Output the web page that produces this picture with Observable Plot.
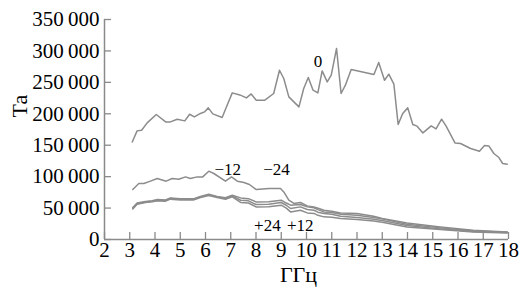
<!DOCTYPE html>
<html>
<head>
<meta charset="utf-8">
<script src="https://cdn.jsdelivr.net/npm/d3@7"></script>
<script src="https://cdn.jsdelivr.net/npm/@observablehq/plot@0.6"></script>
<style>
  html, body { margin: 0; padding: 0; background: #fff; }
</style>
</head>
<body>
<div id="chart"></div>
<script>
// Curve "0"
const freq0 = [3.10,3.29,3.47,3.69,4.05,4.42,4.61,4.88,5.18,5.37,5.56,5.80,5.96,6.11,6.29,6.66,6.82,7.06,7.36,7.62,7.81,8.01,8.35,8.70,8.93,9.10,9.30,9.70,9.89,10.07,10.26,10.45,10.62,10.82,10.98,11.19,11.37,11.54,11.77,12.67,12.86,13.09,13.26,13.46,13.63,13.81,14.01,14.21,14.38,14.61,14.94,15.13,15.35,15.53,15.88,16.10,16.50,16.85,17.05,17.22,17.42,17.62,17.77,17.95];
const ta0 = [155000,172800,173900,185500,198900,187100,187100,191400,188700,199300,195000,200500,203000,209400,199800,194100,210000,233300,230000,225300,231600,221600,221600,232300,269300,256100,226900,211000,240200,257700,237500,233300,268200,250700,261400,303900,232300,245500,270500,262500,281600,253400,263000,247100,183000,200500,209400,183000,180300,169600,180700,176000,191400,180300,153700,152700,144800,140500,149500,148900,136800,130400,120900,119800];

// Curve "−12"
const freqM12 = [3.12,3.36,3.56,3.82,4.09,4.44,4.68,4.94,5.21,5.40,5.67,5.89,6.13,6.33,6.79,7.03,7.26,7.52,7.74,8.01,8.51,8.97,9.10,9.30,9.50,9.76,10.03,10.29,10.49,10.69,11.00,11.35,12.00,12.66,13.00,13.98,15.30,16.60,17.95];
const taM12 = [79500,89000,89000,92800,97000,92800,97000,95900,99600,97000,99600,99600,108700,105000,92800,99600,92800,90700,87500,79500,81100,81100,75700,62500,57300,58900,53500,51900,49300,46600,45000,42300,41400,37000,33500,26400,20000,14800,12000];

// Bundle of three curves "−24", "+24", "+12"
const freqB = [3.12,3.29,3.62,3.89,4.09,4.42,4.61,5.01,5.54,5.80,6.13,6.46,6.79,7.06,7.39,7.70,8.00,8.50,9.00,9.20,9.37,9.76,10.03,10.30,10.45,10.69,11.00,11.35,12.00,12.66,13.00,13.98,15.30,16.60,17.95];
const taM24 = [51000,58000,60500,61500,63500,63000,66000,65000,65000,68500,72000,68500,66500,70500,66200,65000,59800,60000,62500,58000,54600,55700,51900,50500,47500,43900,43000,40200,38700,35000,32800,24300,18500,13700,11600];
const taP24 = [50000,57000,59800,60900,62500,62000,65200,64000,64000,67800,71000,67800,65200,69400,62500,61500,55700,56000,58900,54500,49300,51900,47700,46500,43500,41400,40000,37000,35000,32300,30200,22300,16900,12700,11100];
const taP12 = [48500,56000,59000,60000,61500,61000,64200,63000,63000,66800,70000,66800,64000,68000,58900,58000,51900,52000,54600,50000,43900,46600,42300,41500,38500,36000,35500,33400,31800,29600,27500,20000,15900,12100,10500];

// Curve labels (text, frequency, value)
const curveLabels = ["0", "\u221212", "\u221224", "+24", "+12"];
const labelFreq = [10.46, 6.88, 8.81, 8.45, 9.75];
const labelTa = [283700, 111400, 111800, 22700, 21600];

// Ticks
const xTicks = d3.range(2, 19, 1);
const yTicks = d3.range(0, 350001, 50000);

const series = [
  {name: "0", f: freq0, v: ta0},
  {name: "-12", f: freqM12, v: taM12},
  {name: "-24", f: freqB, v: taM24},
  {name: "+24", f: freqB, v: taP24},
  {name: "+12", f: freqB, v: taP12}
];
const rows = series.flatMap(s => s.f.map((f, i) => ({series: s.name, f, v: s.v[i]})));
const labels = curveLabels.map((t, i) => ({t, f: labelFreq[i], v: labelTa[i]}));

const fmtY = v => v === 0 ? "0" : d3.format(",")(v).replace(/,/g, "\u2009");
const axisColor = "#8a8a8a";
const lineColor = "#8c8c8c";

const chart = Plot.plot({
  width: 529,
  height: 298,
  marginLeft: 104,
  marginRight: 21,
  marginTop: 19,
  marginBottom: 59,
  style: {fontFamily: "'Liberation Serif', 'Times New Roman', serif", fontSize: "21px", background: "#fff", color: "#000"},
  x: {domain: [2, 18]},
  y: {domain: [0, 350000]},
  marks: [
    Plot.ruleX([2], {stroke: axisColor, strokeWidth: 1.5}),
    Plot.ruleY([0], {stroke: axisColor, strokeWidth: 1.5}),
    Plot.axisX({ticks: xTicks, tickSize: -7, tickPadding: 10, stroke: axisColor, strokeWidth: 1.3, label: null, tickFormat: d => String(d), fill: "#000"}),
    Plot.axisY({ticks: yTicks, tickSize: -7, tickPadding: 12, stroke: axisColor, strokeWidth: 1.3, label: null, tickFormat: fmtY, fill: "#000"}),
    Plot.line(rows, {x: "f", y: "v", z: "series", stroke: lineColor, strokeWidth: 1.5, strokeLinejoin: "round"}),
    Plot.text(labels, {x: "f", y: "v", text: "t", fontSize: 17, fill: "#000"}),
    Plot.text(["ГГц"], {frameAnchor: "bottom", dy: 42, dx: -8, fontSize: 22, fill: "#000"}),
    Plot.text(["Та"], {frameAnchor: "left", rotate: -90, dx: -85, dy: -12, fontSize: 22, fill: "#000"})
  ]
});
document.getElementById("chart").appendChild(chart);
</script>
</body>
</html>
